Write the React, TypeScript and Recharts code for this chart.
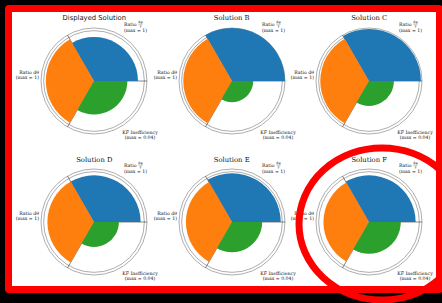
import React from "react";
import { RadialBarChart, RadialBar, PolarAngleAxis, PolarRadiusAxis, PolarGrid, Cell } from "recharts";

const solutions = ["Displayed Solution", "Solution B", "Solution C", "Solution D", "Solution E", "Solution F"];
const metrics = ["Ratio dφ/γ", "Ratio dθ", "KF Inefficiency"];
const metricMax = ["1", "1", "0.04"];
// normalised values (value / max)
const ratioPhi = [0.83, 1.0, 0.98, 0.88, 0.92, 0.88];
const ratioTheta = [0.91, 0.92, 0.92, 0.88, 0.87, 0.86];
const kfIneff = [0.63, 0.4, 0.47, 0.47, 0.57, 0.6];

const colors = ["#1f77b4", "#ff7f0e", "#2ca02c"];

const colX = [94.3, 231.7, 369.2];
const rowY = [80.5, 222];
const R = 53;
const W = 190;
const H = 160;
const CX = W / 2;
const CY = H / 2;
const serif = "'DejaVu Serif', serif";
const FS = 4.65;

function MetricTick({ payload }: any) {
  const v = payload.value;
  if (v === metrics[0]) {
    return (
      <g fontFamily={serif} fontSize={FS} fill="#111">
        <text x={CX + 30} y={CY - 55}>Ratio</text>
        <text x={CX + 46.5} y={CY - 57.6} fontSize={3.2} textAnchor="middle">dφ</text>
        <line x1={CX + 44.3} x2={CX + 48.7} y1={CY - 56.9} y2={CY - 56.9} stroke="#111" strokeWidth={0.3} />
        <text x={CX + 46.5} y={CY - 54.4} fontSize={3.2} textAnchor="middle">γ</text>
        <text x={CX + 41.5} y={CY - 49.2} textAnchor="middle">(max = {metricMax[0]})</text>
      </g>
    );
  }
  if (v === metrics[1]) {
    return (
      <g fontFamily={serif} fontSize={FS} fill="#111" textAnchor="end">
        <text x={CX - 55} y={CY - 7.4}>Ratio dθ</text>
        <text x={CX - 55} y={CY - 1.6}>(max = {metricMax[1]})</text>
      </g>
    );
  }
  return (
    <g fontFamily={serif} fontSize={FS} fill="#111" textAnchor="middle">
      <text x={CX + 46} y={CY + 52.6}>KF Inefficiency</text>
      <text x={CX + 46} y={CY + 58.3}>(max = {metricMax[2]})</text>
    </g>
  );
}

function RoseChart({ idx }: { idx: number }) {
  const rows = metrics.map((m, i) => ({
    metric: m,
    value: [ratioPhi, ratioTheta, kfIneff][i][idx],
  }));
  const left = colX[idx % 3] - CX;
  const top = rowY[Math.floor(idx / 3)] - CY;
  return (
    <div style={{ position: "absolute", left, top, width: W, height: H }}>
      <RadialBarChart
        width={W}
        height={H}
        cx={CX}
        cy={CY}
        innerRadius={0}
        outerRadius={R}
        data={rows}
        layout="centric"
        startAngle={120}
        endAngle={480}
        barCategoryGap="0%"
        barGap={0}
        margin={{ top: 0, right: 0, bottom: 0, left: 0 }}
      >
        <PolarGrid gridType="circle" polarAngles={[]} polarRadius={[R * 0.95, R]} radialLines={false} stroke="#8a8a8a" strokeWidth={0.7} />
        <PolarAngleAxis type="category" dataKey="metric" tick={(p: any) => <MetricTick {...p} />} tickLine={false} axisLine={false} />
        <PolarRadiusAxis type="number" domain={[0, 1]} tick={false} axisLine={false} />
        <RadialBar dataKey="value" isAnimationActive={false}>
          {rows.map((r, i) => (
            <Cell key={r.metric} fill={colors[i]} />
          ))}
        </RadialBar>
        <PolarGrid gridType="circle" polarAngles={[0, 120, 240]} polarRadius={[]} stroke="#333" strokeWidth={0.6} />
      </RadialBarChart>
    </div>
  );
}

export default function App() {
  return (
    <div style={{ position: "fixed", left: 0, top: 0, width: 442, height: 303, background: "#000", overflow: "hidden" }}>
      <div
        style={{
          position: "absolute",
          left: 5,
          top: 5,
          width: 438,
          height: 288,
          boxSizing: "border-box",
          border: "7px solid #ff0000",
          borderRadius: 4,
          background: "#fff",
        }}
      />
      {solutions.map((s, i) => (
        <RoseChart key={s} idx={i} />
      ))}
      <svg width={442} height={303} style={{ position: "absolute", left: 0, top: 0, pointerEvents: "none" }}>
        {solutions.map((s, i) => (
          <text
            key={s}
            x={colX[i % 3]}
            y={rowY[Math.floor(i / 3)] - 60.5}
            textAnchor="middle"
            fontSize={6.8}
            fill="#111"
            fontFamily={i === 0 ? "'DejaVu Sans', sans-serif" : serif}
          >
            {s}
          </text>
        ))}
        <ellipse cx={382} cy={224} rx={83} ry={76} fill="none" stroke="#ff0000" strokeWidth={7} />
      </svg>
    </div>
  );
}
